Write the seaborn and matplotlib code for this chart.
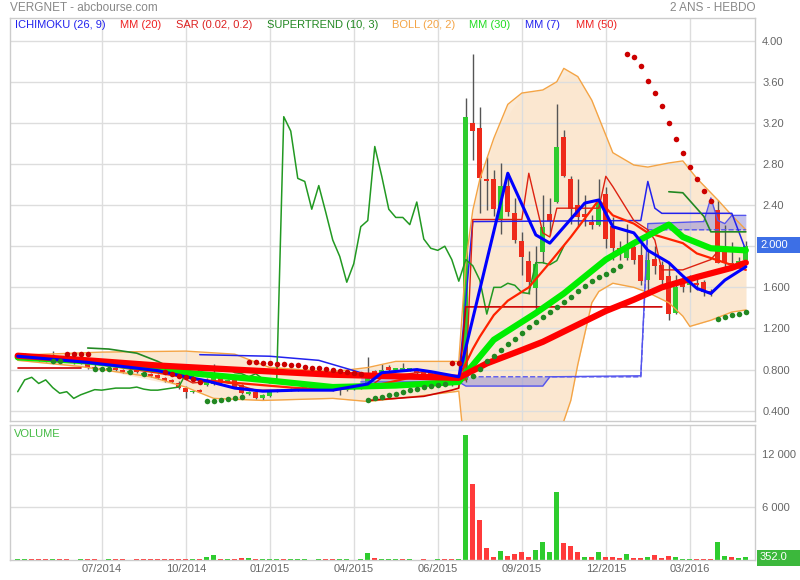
import numpy as np
import matplotlib
matplotlib.use("Agg")
import matplotlib.pyplot as plt
import seaborn as sns

# DONNEES HEBDO (105 semaines)
opens = [0.935, 0.92, 0.93, 0.91, 0.89, 0.87, 0.87, 0.92, 0.90, 0.88,
         0.87, 0.82, 0.80, 0.80, 0.82, 0.80, 0.77, 0.80, 0.75, 0.76,
         0.745, 0.72, 0.70, 0.67, 0.625, 0.58, 0.595, 0.65, 0.66, 0.73,
         0.68, 0.70, 0.65, 0.56, 0.585, 0.52, 0.54, 0.59, 0.60, 0.60,
         0.60, 0.65, 0.64, 0.62, 0.63, 0.63, 0.61, 0.60, 0.61, 0.62,
         0.65, 0.79, 0.74, 0.83, 0.80, 0.80, 0.80, 0.81, 0.77, 0.77,
         0.73, 0.74, 0.65, 0.68, 0.70, 3.20, 3.15, 2.65, 2.65, 2.26,
         2.59, 2.32, 2.05, 1.86, 1.59, 1.94, 2.31, 2.43, 3.06, 2.65,
         2.40, 2.31, 2.24, 2.21, 2.51, 2.20, 1.98, 1.89, 1.99, 1.91,
         1.67, 1.88, 1.82, 1.71, 1.35, 1.66, 1.62, 1.64, 1.65, 1.56,
         2.35, 1.94, 1.84, 1.84, 1.87]
highs = [0.95, 0.96, 0.94, 0.92, 0.91, 0.98, 0.92, 0.93, 0.91, 0.89,
         0.88, 0.91, 0.83, 0.82, 0.83, 0.81, 0.88, 0.81, 0.78, 0.77,
         0.76, 0.73, 0.71, 0.69, 0.64, 0.60, 0.61, 0.72, 0.85, 0.75,
         0.71, 0.71, 0.66, 0.59, 0.60, 0.56, 0.59, 0.61, 0.61, 0.62,
         0.63, 0.66, 0.65, 0.64, 0.64, 0.64, 0.62, 0.62, 0.63, 0.64,
         0.92, 0.80, 0.85, 0.84, 0.82, 0.86, 0.82, 0.82, 0.79, 0.78,
         0.77, 0.75, 0.68, 0.88, 3.44, 3.87, 3.35, 2.87, 2.74, 2.81,
         2.71, 2.47, 2.14, 1.95, 2.00, 2.50, 2.47, 3.38, 3.13, 2.68,
         2.65, 2.50, 2.30, 2.65, 2.58, 2.28, 2.05, 2.22, 2.02, 2.07,
         1.96, 2.00, 1.86, 1.84, 1.72, 1.72, 1.72, 1.68, 1.67, 1.58,
         2.45, 2.21, 2.04, 1.90, 2.05]
lows = [0.91, 0.90, 0.90, 0.88, 0.87, 0.86, 0.86, 0.89, 0.85, 0.85,
        0.81, 0.80, 0.79, 0.79, 0.79, 0.77, 0.76, 0.77, 0.74, 0.73,
        0.71, 0.68, 0.67, 0.61, 0.52, 0.57, 0.58, 0.64, 0.65, 0.65,
        0.67, 0.62, 0.56, 0.55, 0.51, 0.50, 0.53, 0.58, 0.59, 0.59,
        0.59, 0.61, 0.61, 0.60, 0.60, 0.59, 0.55, 0.59, 0.60, 0.61,
        0.64, 0.72, 0.73, 0.79, 0.79, 0.79, 0.79, 0.76, 0.75, 0.72,
        0.72, 0.70, 0.64, 0.66, 0.68, 2.84, 2.32, 2.35, 2.29, 2.12,
        2.29, 2.03, 1.72, 1.54, 1.38, 1.84, 2.11, 2.42, 2.67, 2.22,
        2.20, 2.20, 2.17, 2.20, 1.98, 1.87, 1.87, 1.87, 1.83, 1.62,
        1.55, 1.73, 1.60, 1.28, 1.34, 1.55, 1.55, 1.57, 1.52, 1.52,
        1.84, 1.80, 1.80, 1.80, 1.86]
closes = [0.925, 0.93, 0.91, 0.89, 0.88, 0.93, 0.91, 0.90, 0.86, 0.86,
          0.82, 0.81, 0.81, 0.81, 0.80, 0.78, 0.79, 0.78, 0.77, 0.74,
          0.72, 0.69, 0.68, 0.62, 0.585, 0.59, 0.585, 0.70, 0.725, 0.665,
          0.70, 0.625, 0.57, 0.585, 0.52, 0.555, 0.58, 0.605, 0.60, 0.61,
          0.62, 0.62, 0.62, 0.63, 0.61, 0.60, 0.60, 0.61, 0.62, 0.63,
          0.76, 0.73, 0.80, 0.80, 0.81, 0.80, 0.81, 0.77, 0.76, 0.73,
          0.76, 0.71, 0.67, 0.71, 3.26, 3.12, 2.66, 2.63, 2.36, 2.59,
          2.33, 2.06, 1.90, 1.65, 1.83, 2.19, 2.25, 2.97, 2.68, 2.36,
          2.28, 2.28, 2.21, 2.43, 2.07, 1.98, 1.96, 2.00, 1.87, 1.66,
          1.87, 1.81, 1.67, 1.34, 1.60, 1.60, 1.64, 1.62, 1.55, 1.54,
          1.84, 1.84, 1.82, 1.86, 2.00]
volumes = [80, 60, 70, 60, 150, 90, 70, 60, 50, 70,
           140, 60, 50, 60, 90, 140, 50, 80, 70, 90,
           100, 120, 110, 130, 80, 60, 120, 330, 620, 160,
           90, 100, 260, 170, 90, 70, 60, 80, 140, 60,
           90, 60, 50, 60, 70, 60, 60, 60, 50, 60,
           760, 190, 120, 60, 60, 70, 60, 50, 60, 50,
           60, 80, 60, 60, 14140, 8560, 4470, 1360, 380, 1060,
           490, 680, 870, 300, 1140, 2010, 870, 7690, 1930, 1630,
           950, 300, 300, 870, 300, 300, 230, 680, 230, 230,
           380, 610, 190, 490, 300, 150, 150, 80, 80, 80,
           2090, 490, 380, 190, 352]

# INDICATEURS
mm50_x = [0, 10, 20, 31, 45, 63, 67, 72, 75, 78, 81, 84, 88, 92, 97, 102, 104]
mm50_y = [0.935, 0.89, 0.84, 0.80, 0.75, 0.72, 0.86, 0.99, 1.07, 1.17, 1.27, 1.37, 1.48, 1.60, 1.70, 1.79, 1.84]
mm30_x = [0, 10, 18, 24, 35, 45, 54, 63, 68, 74, 78, 84, 88, 93, 95, 99, 104]
mm30_y = [0.92, 0.88, 0.82, 0.77, 0.70, 0.63, 0.645, 0.68, 1.09, 1.35, 1.54, 1.87, 2.03, 2.21, 2.09, 1.98, 1.96]
mm20_x = [0, 10, 20, 26, 33, 40, 46, 52, 58, 63, 64, 65, 66, 68, 70, 73, 76, 79, 83, 85, 88, 90, 95, 97, 101, 104]
mm20_y = [0.92, 0.87, 0.77, 0.70, 0.66, 0.62, 0.61, 0.66, 0.75, 0.73, 0.86, 1.00, 1.12, 1.33, 1.47, 1.60, 1.84, 2.09, 2.45, 2.30, 2.22, 2.13, 2.03, 1.93, 1.84, 1.77]
mm7_x = [0, 5, 10, 15, 20, 24, 27, 31, 35, 40, 45, 50, 52, 57, 59, 63, 70, 74, 76, 81, 83, 85, 88, 90, 93, 95, 97, 99, 101, 104]
mm7_y = [0.93, 0.90, 0.87, 0.83, 0.79, 0.73, 0.69, 0.62, 0.59, 0.60, 0.60, 0.66, 0.77, 0.80, 0.78, 0.73, 2.71, 2.11, 2.03, 2.42, 2.45, 2.19, 2.13, 1.96, 1.84, 1.71, 1.59, 1.54, 1.67, 1.80]

boll_up_x = [0, 12, 24, 31, 36, 45, 50, 54, 63, 64, 65, 66, 67, 68, 70, 72, 75, 77, 78, 80, 82, 83, 85, 88, 90, 93, 95, 97, 100, 102, 104]
boll_up_y = [0.94, 0.97, 0.98, 0.95, 0.82, 0.78, 0.82, 0.88, 0.88, 1.85, 2.35, 2.65, 2.85, 3.05, 3.38, 3.49, 3.52, 3.60, 3.73, 3.65, 3.42, 3.25, 2.91, 2.79, 2.77, 2.81, 2.83, 2.66, 2.45, 2.30, 2.16]
boll_lo_x = [0, 9, 19, 24, 28, 35, 45, 50, 57, 63, 64, 68, 72, 75, 77, 79, 80, 81, 82, 83, 85, 88, 90, 93, 95, 96, 99, 102, 104]
boll_lo_y = [0.89, 0.83, 0.73, 0.63, 0.52, 0.50, 0.52, 0.49, 0.54, 0.59, -0.10, -0.60, -0.60, -0.10, 0.10, 0.50, 0.85, 1.15, 1.45, 1.56, 1.64, 1.60, 1.55, 1.45, 1.32, 1.22, 1.28, 1.36, 1.38]

# ICHIMOKU (26, 9)
kijun_x = [26, 36, 43, 49, 50, 63, 65, 89, 90, 91, 92, 102, 104]
kijun_y = [0.945, 0.93, 0.89, 0.77, 0.72, 0.72, 2.24, 2.25, 2.63, 2.37, 2.32, 2.32, 1.96]
tenkan_x = [0, 8, 11, 16, 20, 23, 25, 28, 31, 34, 40, 46, 50, 52, 58, 61, 63, 64, 65, 72, 73, 75, 76, 77, 83, 84, 85, 88, 90, 91, 92, 95, 99, 100, 104]
tenkan_y = [0.93, 0.92, 0.86, 0.84, 0.78, 0.74, 0.67, 0.69, 0.66, 0.60, 0.60, 0.62, 0.62, 0.72, 0.78, 0.75, 0.70, 0.70, 2.26, 2.26, 2.71, 2.13, 2.09, 2.37, 2.37, 2.68, 2.58, 2.25, 2.16, 2.06, 1.77, 1.77, 1.87, 1.95, 1.95]
span_x = [49, 63, 64, 75, 76, 89, 90, 98, 99, 100, 101, 102, 104]
span_a = [0.68, 0.68, 0.64, 0.64, 0.73, 0.74, 2.22, 2.24, 2.47, 2.25, 2.22, 2.30, 2.30]
span_b = [0.73, 0.73, 0.73, 0.73, 0.73, 0.73, 2.16, 2.16, 2.16, 2.16, 2.16, 2.16, 2.16]

# SUPERTREND (10, 3)
st_red1_x = [0, 9]
st_red1_y = [0.82, 0.82]
st_green1_x = [10, 13, 17, 20, 23]
st_green1_y = [1.01, 1.00, 0.96, 0.88, 0.78]
st_red2_x = [50, 54, 58, 62, 63, 64, 92]
st_red2_y = [0.50, 0.52, 0.54, 0.60, 0.62, 1.41, 1.41]
st_green2_x = [93, 95, 98, 99, 104]
st_green2_y = [2.53, 2.52, 2.29, 2.14, 2.14]

# SAR (0.02, 0.2)
sar_up_x = [5, 6, 11, 12, 13, 16, 18, 27, 28, 29, 30, 31, 32,
            50, 51, 52, 53, 54, 55, 56, 57, 58, 59, 60, 61,
            65, 66, 67, 68, 69, 70, 71, 72, 73, 74, 75, 76, 77, 78, 79, 80, 81, 82, 83, 84, 85, 86,
            100, 101, 102, 103, 104]
sar_up_y = [0.88, 0.88, 0.81, 0.81, 0.81, 0.78, 0.76, 0.49, 0.49, 0.50, 0.51, 0.52, 0.53,
            0.50, 0.52, 0.53, 0.55, 0.56, 0.58, 0.60, 0.61, 0.63, 0.64, 0.65, 0.66,
            0.74, 0.81, 0.88, 0.93, 0.99, 1.05, 1.10, 1.16, 1.21, 1.26, 1.31, 1.36, 1.41, 1.46, 1.51, 1.56, 1.61, 1.66, 1.70, 1.73, 1.77, 1.81,
            1.29, 1.31, 1.33, 1.34, 1.36]
sar_dn_x = [7, 8, 9, 10, 21, 22, 23, 24, 25, 26,
            33, 34, 35, 36, 37, 38, 39, 40, 41, 42, 43, 44, 45, 46, 47, 48, 49, 62, 63,
            87, 88, 89, 90, 91, 92, 93, 94, 95, 96, 97, 98, 99]
sar_dn_y = [0.95, 0.95, 0.95, 0.95, 0.775, 0.76, 0.74, 0.73, 0.71, 0.68,
            0.87, 0.87, 0.86, 0.86, 0.85, 0.85, 0.84, 0.84, 0.83, 0.82, 0.82, 0.81, 0.80, 0.79, 0.78, 0.77, 0.76, 0.86, 0.86,
            3.87, 3.84, 3.75, 3.61, 3.49, 3.36, 3.20, 3.04, 2.91, 2.77, 2.65, 2.54, 2.44]

date_ticks = [12, 24, 36, 48, 60, 72, 84, 96]
date_labels = ["07/2014", "10/2014", "01/2015", "04/2015", "06/2015", "09/2015", "12/2015", "03/2016"]
price_ticks = [0.4, 0.8, 1.2, 1.6, 2.0, 2.4, 2.8, 3.2, 3.6, 4.0]
price_labels = ["0.400", "0.800", "1.200", "1.600", "", "2.40", "2.80", "3.20", "3.60", "4.00"]
vol_ticks = [6000, 12000]
vol_labels = ["6 000", "12 000"]

# STYLE
sns.set_theme(style="white")
plt.rcParams['font.family'] = ['Liberation Sans', 'DejaVu Sans']

GRID = '#dddddd'
TXT = '#666666'
UP = '#2ecc2e'
DOWN = '#ee2a1a'

fig = plt.figure(figsize=(8, 5.8), dpi=100)
W, H = 800.0, 580.0
ax = fig.add_axes([10 / W, 1 - 421 / H, 745.3 / W, 403 / H])
axv = fig.add_axes([10 / W, 1 - 560 / H, 745.3 / W, 135 / H], sharex=ax)

weeks = np.arange(len(closes))
o = np.array(opens)
c = np.array(closes)
h = np.array(highs)
l = np.array(lows)


def trace(a, xs, ys, color, lw, ls='-', z=3, alpha=1.0):
    sns.lineplot(x=xs, y=ys, ax=a, color=color, linewidth=lw, linestyle=ls,
                 zorder=z, alpha=alpha, estimator=None, sort=False, legend=False)


# bandes de Bollinger
ax.fill_between(boll_up_x, np.interp(boll_up_x, boll_lo_x, boll_lo_y), boll_up_y,
                color='#fbe7cf', alpha=0.85, zorder=0.5, lw=0)
ax.fill_between(boll_lo_x, boll_lo_y, np.interp(boll_lo_x, boll_up_x, boll_up_y),
                color='#fbe7cf', alpha=0.85, zorder=0.5, lw=0)

# nuage ichimoku
ax.fill_between(span_x, span_a, span_b, color='#8a86d6', alpha=0.5, zorder=1, lw=0)

# chandeliers
ax.vlines(weeks, l, h, color='#555555', lw=1, zorder=2)
body = np.maximum(np.abs(c - o), 0.012)
cols = [UP if cc >= oo else DOWN for oo, cc in zip(o, c)]
ax.bar(weeks, body, bottom=np.minimum(o, c), width=0.72, color=cols, zorder=2.5, lw=0)

trace(ax, boll_up_x, boll_up_y, '#f4a445', 1.0, z=3)
trace(ax, boll_lo_x, boll_lo_y, '#f4a445', 1.0, z=3)
trace(ax, span_x, span_a, '#5555ee', 1.0, z=3)
trace(ax, span_x, span_b, '#5555ee', 1.0, ls='--', z=3)
trace(ax, kijun_x, kijun_y, '#2222ee', 1.1, z=3.2)
trace(ax, tenkan_x, tenkan_y, '#dd2211', 1.0, z=3.2)
trace(ax, weeks[26:] - 26, c[26:], '#229922', 1.1, z=3.2)
trace(ax, st_red1_x, st_red1_y, '#cc0000', 1.2, z=3.3)
trace(ax, st_green1_x, st_green1_y, '#228822', 1.2, z=3.3)
trace(ax, st_red2_x, st_red2_y, '#cc0000', 1.2, z=3.3)
trace(ax, st_green2_x, st_green2_y, '#228822', 1.2, z=3.3)
trace(ax, mm20_x, mm20_y, '#ff2200', 1.6, z=4)
trace(ax, mm30_x, mm30_y, '#00ee00', 4.5, z=4.4)
trace(ax, mm50_x, mm50_y, '#ff0000', 4.5, z=4.6)
trace(ax, mm7_x, mm7_y, '#0000ff', 2.2, z=5)

sns.scatterplot(x=sar_dn_x, y=sar_dn_y, ax=ax, color='#cc0000', s=16, lw=0, zorder=6, legend=False)
sns.scatterplot(x=sar_up_x, y=sar_up_y, ax=ax, color='#228822', s=16, lw=0, zorder=6, legend=False)

ax.set_xlim(-1.1, 105.35)
ax.set_ylim(0.30, 4.22)

# volume
vcols = [UP if i == 0 or c[i] >= c[i - 1] else '#ff3b3b' for i in range(len(c))]
axv.bar(weeks, volumes, width=0.72, color=vcols, lw=0, zorder=2)
axv.set_ylim(0, 15260)

for a in (ax, axv):
    a.set_xticks(date_ticks)
    a.grid(True, color=GRID, lw=1, zorder=0)
    a.set_axisbelow(True)
    for s in a.spines.values():
        s.set_color('#cccccc')
        s.set_linewidth(1)
    a.yaxis.tick_right()
    a.tick_params(length=0, colors=TXT, labelsize=8, pad=5)
    a.set_xlabel('')
    a.set_ylabel('')

ax.set_yticks(price_ticks)
ax.set_yticklabels(price_labels)
ax.tick_params(axis='x', labelbottom=False)
axv.set_yticks(vol_ticks)
axv.set_yticklabels(vol_labels)
axv.set_xticklabels(date_labels)
axv.tick_params(axis='x', pad=3)

# textes
fig.text(10 / W, 1 - 8 / H, "VERGNET - abcbourse.com", color='#888888', fontsize=8.5, va='center', ha='left')
fig.text(755 / W, 1 - 8 / H, "2 ANS - HEBDO", color='#888888', fontsize=8.5, va='center', ha='right')
legend = [("ICHIMOKU (26, 9)", '#2222ee', 15), ("MM (20)", '#ee2222', 120),
          ("SAR (0.02, 0.2)", '#dd2222', 176), ("SUPERTREND (10, 3)", '#228822', 267),
          ("BOLL (20, 2)", '#f4a445', 392), ("MM (30)", '#22dd22', 469),
          ("MM (7)", '#2222ee', 525), ("MM (50)", '#ee2222', 576)]
for txt, col, px in legend:
    fig.text(px / W, 1 - 25 / H, txt, color=col, fontsize=8, va='center', ha='left')
fig.text(14 / W, 1 - 434 / H, "VOLUME", color='#44bb44', fontsize=8, va='center', ha='left')

fig.text(760 / W, 1 - 245 / H, "2.000", color='white', fontsize=8, va='center', ha='left',
         bbox=dict(boxstyle='square,pad=0.25', fc='#3d6fe6', ec='none'))
fig.patches.append(plt.Rectangle((757 / W, 1 - 253 / H), 43 / W, 16 / H, transform=fig.transFigure,
                                 fc='#3d6fe6', ec='none', zorder=-1))
fig.patches.append(plt.Rectangle((757 / W, 1 - 566 / H), 43 / W, 16 / H, transform=fig.transFigure,
                                 fc='#3cb83c', ec='none', zorder=-1))
fig.text(760 / W, 1 - 557 / H, "352.0", color='white', fontsize=8, va='center', ha='left')

fig.savefig('out.png', dpi=100, facecolor='white')
